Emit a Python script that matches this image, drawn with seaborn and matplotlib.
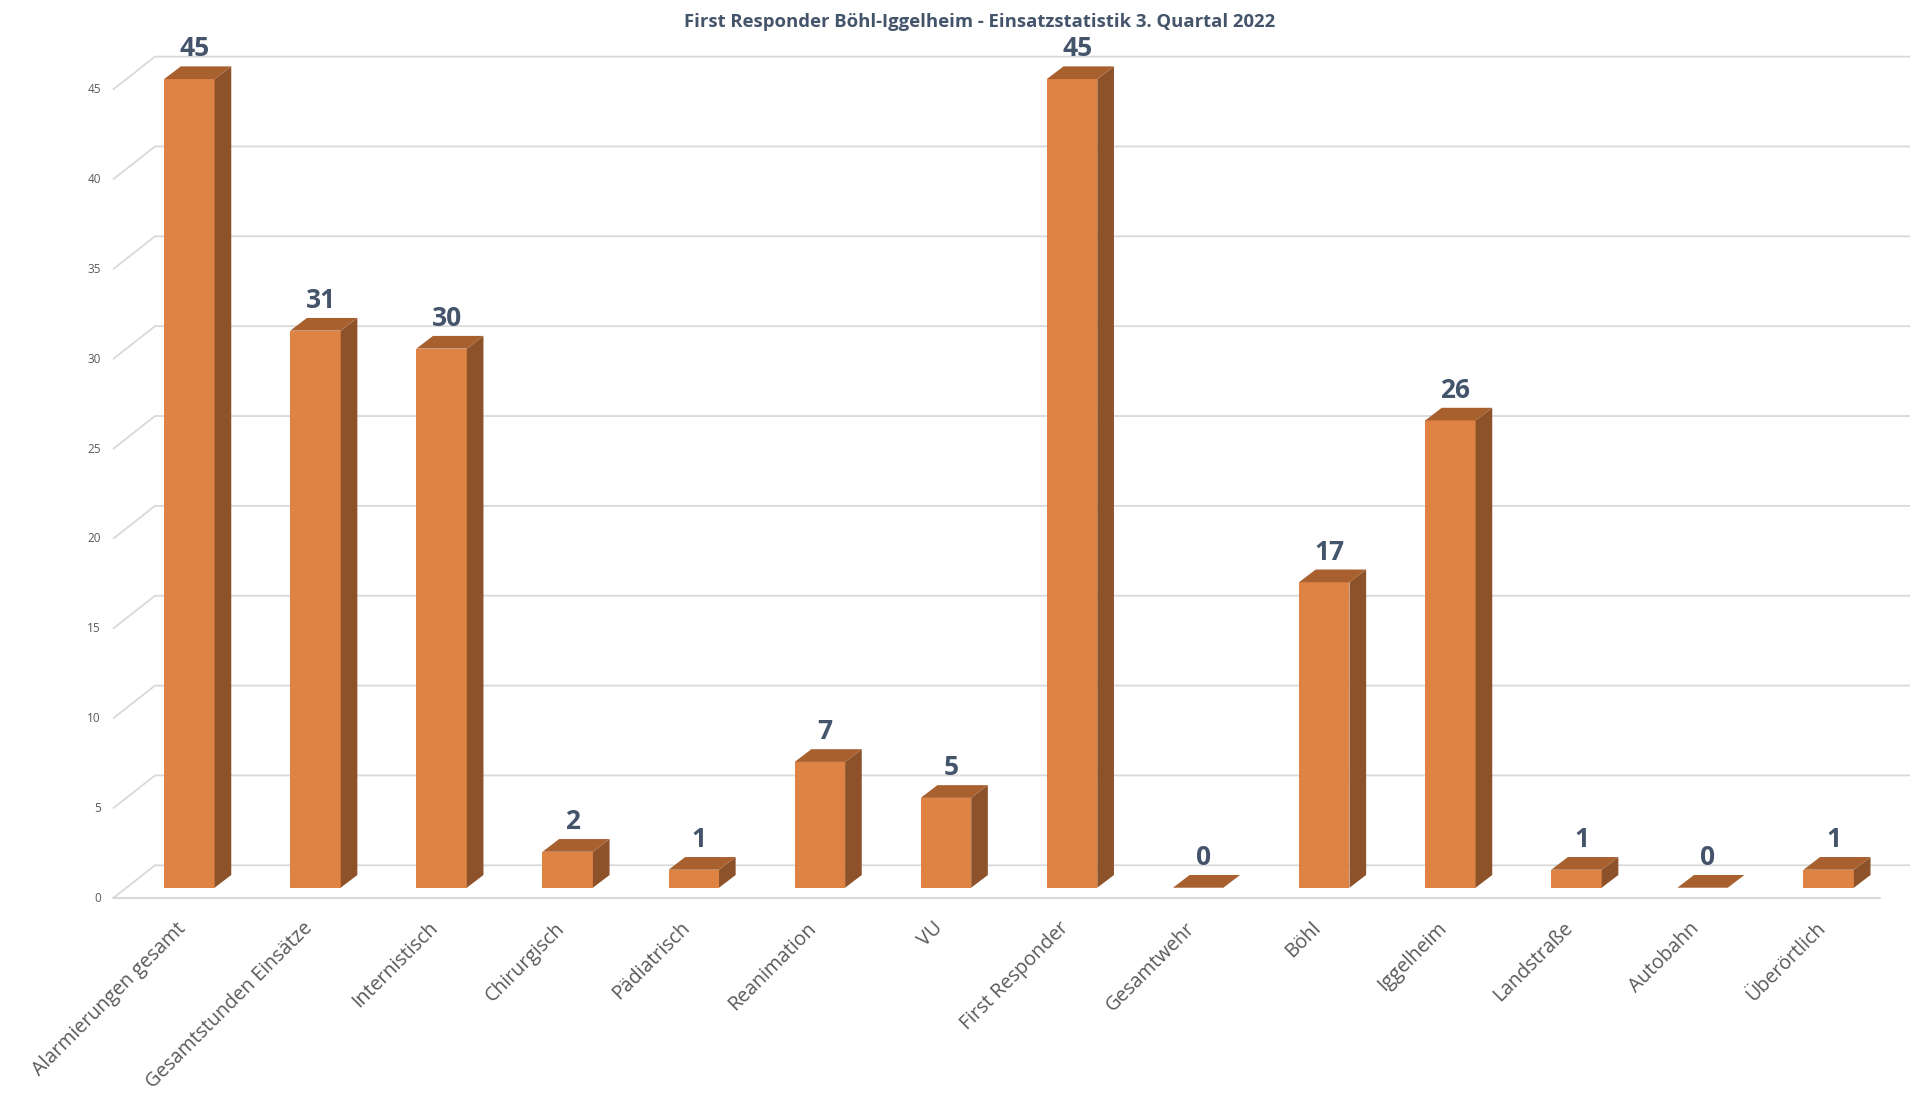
import numpy as np
import pandas as pd
import matplotlib
matplotlib.use("Agg")
import matplotlib.pyplot as plt
from matplotlib.patches import Polygon
import seaborn as sns

# ---------------- data ----------------
categories = ["Alarmierungen gesamt", "Gesamtstunden Einsätze", "Internistisch",
              "Chirurgisch", "Pädiatrisch", "Reanimation", "VU", "First Responder",
              "Gesamtwehr", "Böhl", "Iggelheim", "Landstraße", "Autobahn", "Überörtlich"]
values = [45, 31, 30, 2, 1, 7, 5, 45, 0, 17, 26, 1, 0, 1]
y_ticks = [0, 5, 10, 15, 20, 25, 30, 35, 40, 45]
title = "First Responder Böhl-Iggelheim - Einsatzstatistik 3. Quartal 2022"

# ---------------- style ----------------
sns.set_theme(style="white")
plt.rcParams['font.family'] = ['Open Sans', 'DejaVu Sans']

FRONT = "#DE8344"
SIDE = "#8D522A"
TOP = "#A8602F"
LABEL_DARK = "#44546A"
TICK_GRAY = "#595959"
GRID = "#D9D9D9"

BAR_W = 0.4
SX, SY = 0.132, 0.707          # bar depth (oblique projection, data units)
DX, DY = 0.333, 1.836          # full floor depth
D0 = 0.32                      # depth of bar front face within floor
FLOOR_L, FLOOR_R = -0.606, 13.41

W, H = 1910, 1094
fig = plt.figure(figsize=(W / 100, H / 100), dpi=100)
ax = fig.add_axes([0, 0, 1, 1])

df = pd.DataFrame({"cat": categories, "val": values})
sns.barplot(data=df, x="cat", y="val", color=FRONT, width=BAR_W, saturation=1,
            linewidth=0, ax=ax, zorder=3)

# pixel mapping
ax.set_xlim(-1.502, 13.645)
ax.set_ylim(-11.48, 49.40)
ax.set_axis_off()

front_off = -D0 * DY
back_off = (1 - D0) * DY

# gridlines: left wall diagonals + back wall horizontals
for t in y_ticks:
    ax.plot([FLOOR_L, FLOOR_L + DX, FLOOR_R + DX + 1],
            [t + front_off, t + back_off, t + back_off],
            color=GRID, lw=1.3, zorder=1, solid_capstyle="butt")
    ax.text(FLOOR_L - 0.095, t + front_off, str(t), ha="right", va="center",
            fontsize=8.5, color=TICK_GRAY)
# floor front edge
ax.plot([FLOOR_L, FLOOR_R], [front_off, front_off], color=GRID, lw=1.5, zorder=1)

# 3D sides and tops
for i, v in enumerate(values):
    xl, xr = i - BAR_W / 2, i + BAR_W / 2
    side = Polygon([(xr, 0), (xr + SX, SY), (xr + SX, v + SY), (xr, v)],
                   closed=True, facecolor=SIDE, edgecolor="none", zorder=3)
    top = Polygon([(xl, v), (xr, v), (xr + SX, v + SY), (xl + SX, v + SY)],
                  closed=True, facecolor=TOP, edgecolor="none", zorder=3)
    ax.add_patch(side)
    ax.add_patch(top)
    ax.text(i + 0.04, v + 1.26, str(v), ha="center", va="baseline",
            fontsize=19, fontweight="bold", color=LABEL_DARK)
    ax.text(i - 0.05, -2.10, categories[i], rotation=45, rotation_mode="anchor",
            ha="right", va="center", fontsize=14.1, color=TICK_GRAY)

fig.text(980 / W, 1 - 22 / H, title, ha="center", va="center", fontsize=13.3,
         fontweight="bold", color=LABEL_DARK)

fig.savefig("out.png", dpi=100, facecolor="white")
